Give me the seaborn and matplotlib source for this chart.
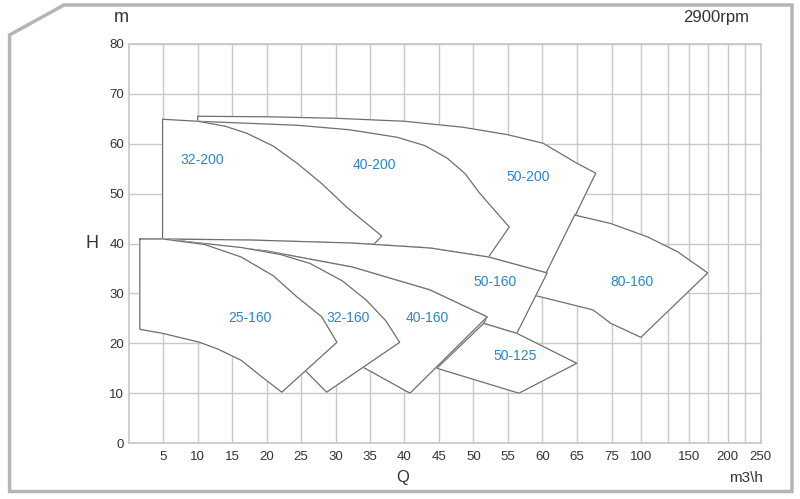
import numpy as np
import pandas as pd
import matplotlib
matplotlib.use("Agg")
import matplotlib.pyplot as plt
from matplotlib.patches import Polygon
import seaborn as sns

sns.set_theme(style="white")
plt.rcParams['font.family'] = ['Liberation Sans', 'DejaVu Sans']

# x-axis knots (Q value -> evenly spaced chart position)
q_knots = [0, 65, 75, 100, 125, 150, 175, 200, 225, 250]
pos_knots = [0, 65, 70.1, 74.3, 78.2, 81.3, 84.0, 86.9, 89.4, 91.7]
x_ticks = [5, 10, 15, 20, 25, 30, 35, 40, 45, 50, 55, 60, 65, 75, 100, 125, 150, 175, 200, 225, 250]
x_ticklabels = ["5", "10", "15", "20", "25", "30", "35", "40", "45", "50", "55", "60", "65",
                "75", "100", "", "150", "", "200", "", "250"]
y_ticks = [0, 10, 20, 30, 40, 50, 60, 70, 80]

# Region outlines (Q, H)
top_50_160 = [(1.6, 40.9), (5, 40.9), (17.6, 40.7), (32.4, 40.1), (43.7, 39.1), (52.2, 37.3), (60.7, 34.1)]
top_40_160 = [(5, 40.9), (20, 38.5), (32.4, 35.3), (43.7, 30.7), (52.0, 25.3)]

regions = {
    "50-200": [(10, 65.5), (20, 65.4), (30, 65.1), (40, 64.5), (48.5, 63.3), (55, 61.8), (60.1, 60.1),
               (65, 56.1), (70.4, 54.1), (60.7, 34.1)] + top_50_160[::-1][:-2] + [(10, 40.7)],
    "40-200": [(10, 64.5), (24.4, 63.7), (32, 62.8), (38.9, 61.3), (43, 59.6), (46.2, 57.1), (48.8, 54.0),
               (50.9, 50.1), (55.2, 43.3),
               (52.2, 37.3), (43.7, 39.1), (32.4, 40.1), (17.6, 40.7), (10, 40.8)],
    "32-200": [(4.9, 64.9), (10, 64.5), (14, 63.5), (17.1, 62.1), (21, 59.5), (24.4, 56.1), (28, 52.0),
               (31.6, 47.3), (36.7, 41.5),
               (35.6, 39.9), (17.6, 40.7), (4.9, 40.9)],
    "80-160": [(64.7, 45.7), (74.7, 44.0), (106.5, 41.3), (137, 38.3), (175, 34.1), (100, 21.2),
               (74.7, 24.0), (69.6, 26.7), (59.2, 29.5), (58.9, 29.5)],
    "50-160": top_50_160 + [(56.3, 22.0), (51.5, 24.0)] + top_40_160[::-1],
    "50-125": [(51.5, 24.0), (56.3, 22.0), (65, 16.0), (56.6, 10.0), (44.7, 15.0)],
    "40-160": top_40_160 + [(40.8, 10.0), (34.0, 15.2), (28, 20)],
    "32-160": [(5, 40.9), (16.3, 39.2), (22, 37.8), (26.3, 36.0), (31, 32.5), (34.5, 28.6), (37.3, 24.5),
               (39.3, 20.2), (28.7, 10.2), (25.7, 14.4), (20, 22)],
    "25-160": [(1.6, 40.9), (5, 40.9), (11, 39.8), (16.3, 37.3), (21, 33.5), (24.4, 29.3), (28.0, 25.3),
               (30.2, 20.2), (22.2, 10.2), (19, 13.6), (16.3, 16.6), (13, 18.8), (10.3, 20.2),
               (4.9, 22.0), (1.6, 22.8)],
}
labels = {"32-200": (10.6, 56.7), "40-200": (35.7, 55.7), "50-200": (57.9, 53.3),
          "50-160": (53.1, 32.3), "80-160": (92.2, 32.3), "25-160": (17.6, 25.0),
          "32-160": (31.8, 25.0), "40-160": (43.3, 25.0), "50-125": (56.0, 17.4)}

fig = plt.figure(figsize=(8, 4.99), dpi=100)
border = Polygon([(0.012, 0.93), (0.08, 0.99), (0.99, 0.99), (0.99, 0.015), (0.012, 0.015)],
                 closed=True, transform=fig.transFigure, fill=False, edgecolor="#b5b5b5", lw=2.5)
fig.patches.append(border)

ax = fig.add_axes([0.161, 0.112, 0.790, 0.800])
fwd = lambda q: np.interp(q, q_knots, pos_knots)
inv = lambda p: np.interp(p, pos_knots, q_knots)
ax.set_xscale("function", functions=(fwd, inv))
ax.set_xlim(0, 250)
ax.set_ylim(0, 80)

for x in x_ticks:
    ax.axvline(x, color="#c8c8c8", lw=1, zorder=0)
for y in y_ticks:
    ax.axhline(y, color="#c8c8c8", lw=1, zorder=0)
for s in ax.spines.values():
    s.set_color("#c8c8c8")

for i, (name, pts) in enumerate(regions.items()):
    pts = pts + [pts[0]]
    df = pd.DataFrame(pts, columns=["Q", "H"])
    ax.fill(df["Q"], df["H"], color="white", zorder=2 + i * 2)
    sns.lineplot(data=df, x="Q", y="H", sort=False, estimator=None, color="#6e6e6e",
                 lw=0.9, ax=ax, zorder=3 + i * 2)
    lx, ly = labels[name]
    ax.text(lx, ly, name, color="#2b86c5", fontsize=10, ha="center", va="center", zorder=40)

ax.set_xticks(x_ticks)
ax.set_xticklabels(x_ticklabels)
ax.set_yticks(y_ticks)
ax.set_yticklabels([str(v) for v in y_ticks])
ax.tick_params(axis="both", length=0, labelsize=9.5, colors="#333333")
ax.tick_params(axis="x", pad=6)
ax.set_xlabel("")
ax.set_ylabel("")
fig.text(0.142, 0.955, "m", fontsize=13, color="#333333")
fig.text(0.107, 0.512, "H", fontsize=13, color="#333333", va="center")
fig.text(0.503, 0.035, "Q", fontsize=12, color="#333333", ha="center")
fig.text(0.932, 0.035, "m3\\h", fontsize=11, color="#333333", ha="center")
fig.text(0.895, 0.955, "2900rpm", fontsize=12, color="#333333", ha="center")

fig.savefig("out.png", dpi=100)
